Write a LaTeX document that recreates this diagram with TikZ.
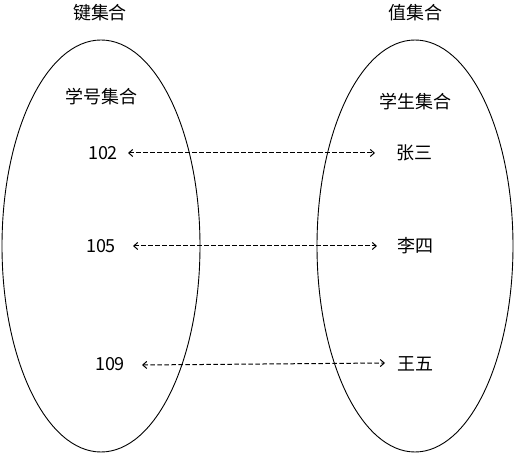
\documentclass[tikz,border=0pt]{standalone}
\usepackage{fontspec}
\setmainfont{Noto Sans CJK SC}
\usetikzlibrary{arrows.meta}
\begin{document}
\begin{tikzpicture}[x=1pt,y=1pt,
  setell/.style={draw,line width=0.9pt},
  lbl/.style={font=\fontsize{18}{20}\selectfont,inner sep=0pt},
  link/.style={dash pattern=on 4.5pt off 2.5pt,line width=1pt,{Straight Barb[length=4pt,width=7pt]}-{Straight Barb[length=4pt,width=7pt]}}]
\useasboundingbox (0,0) rectangle (515,461);
\draw[setell] (101,215) ellipse [x radius=99, y radius=206];
\draw[setell] (415,215) ellipse [x radius=98, y radius=206];
\node[lbl] (k) at (100,448) {键集合};
\node[lbl] (v) at (415,448) {值集合};
\node[lbl] (ks) at (101,364) {学号集合};
\node[lbl] (vs) at (415,359) {学生集合};
\node[lbl] (a1) at (103,308) {102};
\node[lbl] (a2) at (101,215) {105};
\node[lbl] (a3) at (110,97) {109};
\node[lbl] (b1) at (414,308) {张三};
\node[lbl] (b2) at (415,215) {李四};
\node[lbl] (b3) at (415,97) {王五};
\coordinate (s1) at (128,308); \coordinate (e1) at (375,308);
\coordinate (s2) at (133,215); \coordinate (e2) at (377,215);
\coordinate (s3) at (142,96); \coordinate (e3) at (385,98);
\draw[link] (s1) -- (e1);
\draw[link] (s2) -- (e2);
\draw[link] (s3) -- (e3);
\end{tikzpicture}
\end{document}
